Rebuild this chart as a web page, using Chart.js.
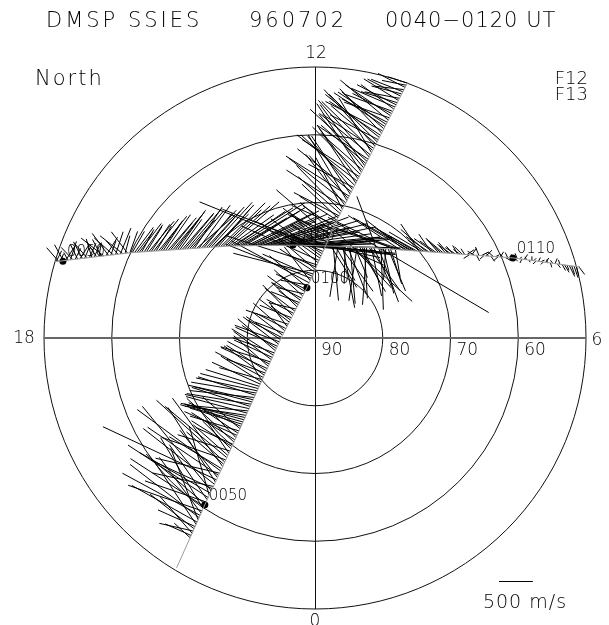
<!DOCTYPE html>
<html>
<head>
<meta charset="utf-8">
<title>DMSP SSIES 960702 0040-0120 UT</title>
<script src="https://cdn.jsdelivr.net/npm/chart.js@4.4.1/dist/chart.umd.min.js"></script>
<style>
  html, body { margin: 0; padding: 0; background: #fff; }
  canvas { display: block; }
</style>
</head>
<body>
<canvas id="dialChart" width="609" height="625"></canvas>
<script>
// latitude rings and MLT hour labels
const ringLats = [80, 70, 60, 50];
const ringLabels = ['90', '80', '70', '60'];
const hourLabels = ['12', '18', '6', '0'];

// F12 track vertices (magnetic latitude, MLT)
const f12Lat = [50.4, 60.5, 68.2, 85.0, 82.5, 72.0, 49.8];
const f12Mlt = [21.93, 21.77, 21.57, 18.00, 12.61, 11.28, 10.67];
// F13 track vertices
const f13Lat = [50.0, 59.95, 71.5, 75.9, 75.0, 69.9, 58.5, 49.5];
const f13Mlt = [16.91, 16.35, 14.85, 12.89, 10.25, 8.64, 7.47, 7.00];

// time marks on each pass
const f12MarkTime = ['0050', '0100'];
const f12MarkLat = [60.5, 82.5];
const f12MarkMlt = [21.77, 12.61];
const f13MarkTime = ['0050', '0100', '0110'];
const f13MarkLat = [51.1, 75.9, 58.5];
const f13MarkMlt = [16.87, 12.89, 7.47];

// ion drift along F12, m/s (cross: left of travel, along: forward)
const f12Cross = [
  0, 0, 0, 0, 0, 0, 0, 0, 0, 0, 0, 0, 0, 300, 420, 650, 500, 800, 600, 950,
  1100, 800, 1250, 1300, 900, 1150, 1000, 1280, 1100, 950, 850, 1400, 700, 1200, 1450, 1000, 900, 1300, 1100, 1850,
  800, 1250, 950, 1500, 900, 1100, 700, 1300, 1000, 1150, 650, 500, 800, 550, 700, 600, 900, 750, 500, 850,
  600, 750, 700, 850, 800, 950, 900, 950, 880, 920, 860, 950, 900, 930, 870, 960, 910, 880, 940, 900,
  870, 820, 780, 700, 650, 800, 720, 600, 690, 750, 650, 700, 760, 680, 620, 720, 650, 700, 600, 680,
  640, 700, 600, 560, 550, 450, 600, 500, 400, 650, 550, 350, 500, 600, 450, 550, 400, 500, 350, 450,
  600, 500, 550, 400, 450, 500, 700, 400, 1300, 550, 1350, 800, 1200, 600, 1000, 450, 1400, 700, 1250, 500,
  900, 600, 1100, 700, 600, 500, 800, -900, 650, 1000, 700, 600, -1500, 550, 700, -2600, 650, 700, 750, 800,
  900, 700, 1000, 850, 1050, 950, 800, 1100, 900, 1000, 950, 750, 1050, 900, 1100, 850, 1000, 950, 1050, 800,
  950, 1000, 850, 1100, 900, 1050, 950, 800, 1000, 900, 1050, 850, 950, 800, 1000, 900, 850, 950, 800, 900,
  850, 750, 900, 700, 800, 650, 750, 600, 700, 650, 550, 600, 500, 550, 450, 500, 400, 450, 350, 300
];
const f12Along = [
  0, 0, 0, 0, 0, 0, 0, 0, 0, 0, 0, 0, 0, 100, 0, 300, -100, 200, 0, 600,
  100, 800, 300, 100, 500, -100, 700, 200, 300, -100, 500, 200, 800, 100, 700, 0, -200, 300, 700, 0,
  400, 200, -200, 300, 100, 600, 200, 400, -100, 300, 200, 300, -100, 200, 100, 0, 300, 100, 200, 0,
  100, -100, 200, 0, -100, -150, -150, -200, -250, -150, -300, -200, -100, -250, -150, -200, -300, -100, -250, -200,
  -150, -100, 0, 100, -100, 50, 150, -50, 100, 0, 200, 50, -100, 150, 0, 100, -50, 200, 100, 0,
  150, -50, 100, 0, 100, -50, 150, 0, 200, -100, 100, 50, -50, 200, 0, 100, -100, 150, 50, -50,
  100, 0, 150, -100, 50, 0, 200, -100, 100, 300, -50, 0, -200, 100, 300, 0, -150, 200, 0, 100,
  200, 100, 0, 300, 100, -100, 200, 0, 100, 300, 0, 200, -500, 100, 0, -300, 100, 200, 0, 200,
  300, 500, 100, 400, 200, 600, 300, 100, 500, 200, 400, 0, 300, 500, 200, 400, 100, 300, 600, 200,
  400, 500, 200, 300, 100, 400, 200, 500, 300, 100, 400, 200, 300, 0, 200, 100, 300, 0, 200, 100,
  100, 0, 200, -100, 100, 0, -100, 100, -50, 0, -100, 50, -150, 0, -100, -50, -150, 0, -100, -50
];

// ion drift along F13, m/s
const f13Cross = [
  150, 220, 100, 250, 180, 120, 260, 200, 150, 230, 180, 260, 140, 220, 200, 280, 160, 240, 200, 260,
  300, 250, 350, 200, 280, 320, 220, 360, 300, 250, 340, 300, 300, 350, 280, 400, 320, 380, 350, 420,
  380, 450, 350, 480, 420, 400, 500, 450, 380, 520, 450, 550, 420, 500, 480, 560, 400, 520, 580, 450,
  600, 520, 480, 560, 500, 620, 450, 580, 520, 600, 500, 550, 600, 450, 550, 500, 620, 400, 500, 550,
  450, 350, 500, 400, 450, 350, 300, 420, 350, 280, 400, 300, 250, 350, 200, 300, 180, 250, 150, 100,
  -50, 150, 50, -100, 120, 600, 0, 100, -80, 500, 150, -100, 50, -150, 80, -600, -800, -500, -750, -650,
  -900, -550, -700, -840, -600, -450, -800, -650, -500, -750, -850, -600, -700, -550, 740, -770, -900, -650, -450, -600,
  -500, 400, -400, 300, 450, 250, 400, 350, 280, 420, 200, 300, 380, 250, 150, 300, 200, 250, 180, 150,
  200, 120, 180, 100, 150, 120, 100, 80, 120, 60, 100, 80, 80, -60, 100, 50, -80, 120, 60, -50,
  90, 40, -70, 60, 30, -60, 80, 50, -40, 70, 30, 50, -40, 70, 30, -60, 80, 40, -30, 60,
  40, -50, 60, 30, -40, 70, 50, -60, 40, 80, -50, 60, -80, -100, -70, -150, -120, -160, -130, -100
];
const f13Along = [
  100, -150, 50, -100, 150, -50, 120, -150, 100, -80, 150, -100, 80, -150, 120, -50, 100, -120, 60, -100,
  -300, 200, -200, 100, -250, 150, -150, 200, -300, 100, -200, 150, 200, 300, 250, 350, 200, 300, 250, 400,
  300, 400, 250, 450, 350, 300, 400, 450, 350, 500, 400, 450, 350, 500, 450, 550, 400, 500, 450, 600,
  500, 550, 450, 600, 500, 650, 550, 600, 500, 700, 600, 700, 800, 650, 900, 750, 1000, 700, 850, 900,
  950, 800, 1000, 900, 1050, 850, 950, 1100, 1000, 900, 1150, 1000, 1100, 1200, 1000, 1250, 1100, 1300, 1200, 1300,
  1200, 1400, 1100, 1300, 1250, -1600, 1350, 1000, 1200, -1400, 900, 1100, 700, 800, 600, 400, 100, 300, -100, 500,
  200, 0, 300, 100, 600, 200, -100, 400, 300, 100, 0, 500, 200, 300, -340, 350, 100, 200, 0, 300,
  200, -990, 100, -1200, -800, -1000, -600, -700, -500, -900, -400, -650, -300, -500, -250, -400, -350, -200, -300, -250,
  -200, -150, -250, -100, -150, -200, -100, -150, -80, -100, -120, -60, 100, -80, 60, -100, 50, -60, 100, -50,
  80, -40, 60, -80, 50, -60, 40, -50, 80, -40, 60, -20, 50, -40, 30, -20, 40, -30, 20, 0,
  30, -40, 20, 50, -30, 40, -20, 30, -40, 20, 50, -30, 60, 80, 40, 100, 60, 80, 50, 100
];

const SCALE_SPEED = 500;   // m/s shown by the key bar
const SPEED_PER_DEG = 100; // m/s drawn per degree of colatitude

// polar dial: 12 MLT at top, 6 right, colatitude as radius
function toXY(lat, mlt) {
  const colat = 90 - lat;
  const a = mlt * Math.PI / 12;
  return { x: colat * Math.sin(a), y: -colat * Math.cos(a) };
}

function trackPoints(lats, mlts) {
  return lats.map((lat, i) => toXY(lat, mlts[i]));
}

// vectors spaced evenly along the track, each starting on it
function driftVectors(track, cross, along) {
  const segLen = [];
  let total = 0;
  for (let i = 1; i < track.length; i++) {
    const d = Math.hypot(track[i].x - track[i - 1].x, track[i].y - track[i - 1].y);
    segLen.push(d);
    total += d;
  }
  const out = [];
  const n = cross.length;
  for (let k = 0; k < n; k++) {
    if (cross[k] === 0 && along[k] === 0) continue;
    let s = (k + 0.5) / n * total;
    let j = 0;
    while (j < segLen.length - 1 && s > segLen[j]) { s -= segLen[j]; j++; }
    const a = track[j], b = track[j + 1];
    const f = s / segLen[j];
    const base = { x: a.x + (b.x - a.x) * f, y: a.y + (b.y - a.y) * f };
    const tx = (b.x - a.x) / segLen[j], ty = (b.y - a.y) / segLen[j];
    const c = cross[k] / SPEED_PER_DEG, l = along[k] / SPEED_PER_DEG;
    out.push(base);
    out.push({ x: base.x - ty * c + tx * l, y: base.y + tx * c + ty * l });
    out.push({ x: NaN, y: NaN });
  }
  return out;
}

const f12Track = trackPoints(f12Lat, f12Mlt);
const f13Track = trackPoints(f13Lat, f13Mlt);
const f12Marks = trackPoints(f12MarkLat, f12MarkMlt);
const f13Marks = trackPoints(f13MarkLat, f13MarkMlt);

const FONT = '"DejaVu Sans", sans-serif';

const dialGrid = {
  id: 'dialGrid',
  beforeDatasetsDraw(chart) {
    const { ctx, chartArea: area, scales: { x, y } } = chart;
    const cx = x.getPixelForValue(0), cy = y.getPixelForValue(0);
    ctx.save();
    ctx.strokeStyle = '#111';
    ctx.lineWidth = 1;
    ringLats.forEach(lat => {
      const r = x.getPixelForValue(90 - lat) - cx;
      ctx.beginPath();
      ctx.arc(cx, cy, r, 0, 2 * Math.PI);
      ctx.stroke();
    });
    ctx.beginPath();
    ctx.moveTo(cx + 0.5, area.top);
    ctx.lineTo(cx + 0.5, area.bottom);
    ctx.stroke();
    ctx.strokeStyle = '#666';
    ctx.lineWidth = 2;
    ctx.beginPath();
    ctx.moveTo(area.left, cy);
    ctx.lineTo(area.right, cy);
    ctx.stroke();

    ctx.fillStyle = '#000';
    ctx.font = '200 17px ' + FONT;
    ctx.textBaseline = 'middle';
    ctx.textAlign = 'left';
    ringLabels.forEach((t, i) => {
      const px = i === 0 ? cx : x.getPixelForValue(90 - ringLats[i - 1]);
      ctx.fillText(t, px + 6, cy + 13);
    });
    ctx.textAlign = 'center';
    ctx.fillText(hourLabels[0], cx + 1, area.top - 13);
    ctx.fillText(hourLabels[1], area.left - 20, cy + 1);
    ctx.fillText(hourLabels[2], area.right + 11, cy + 3);
    ctx.fillText(hourLabels[3], cx, area.bottom + 13);

    // time marks beside the dots
    ctx.textAlign = 'left';
    ctx.font = '200 15px ' + FONT;
    const tag = (pts, times) => pts.forEach((p, i) => {
      ctx.fillText(times[i], x.getPixelForValue(p.x) + 4, y.getPixelForValue(p.y) - 9);
    });
    tag(f12Marks, f12MarkTime);
    tag(f13Marks, f13MarkTime);
    ctx.restore();
  },
  afterDraw(chart) {
    const { ctx, scales: { x } } = chart;
    ctx.save();
    ctx.fillStyle = '#000';
    ctx.textBaseline = 'middle';
    ctx.font = '200 21px ' + FONT;
    ctx.textAlign = 'left';
    ctx.letterSpacing = '3px';
    ctx.fillText('DMSP SSIES', 46, 22);
    ctx.fillText('960702', 249, 22);
    ctx.letterSpacing = '1px';
    ctx.fillText('0040\u22120120 UT', 385, 22);
    ctx.letterSpacing = '2px';
    ctx.fillText('North', 35, 80);
    ctx.textAlign = 'right';
    ctx.font = '200 18px ' + FONT;
    ctx.letterSpacing = '0px';
    ctx.fillText('F12', 588, 79);
    ctx.fillText('F13', 588, 95);

    // speed key
    const len = x.getPixelForValue(SCALE_SPEED / SPEED_PER_DEG) - x.getPixelForValue(0);
    ctx.strokeStyle = '#000';
    ctx.lineWidth = 1;
    ctx.beginPath();
    ctx.moveTo(499, 581.5);
    ctx.lineTo(499 + len, 581.5);
    ctx.stroke();
    ctx.textAlign = 'center';
    ctx.font = '200 19px ' + FONT;
    ctx.letterSpacing = '1px';
    ctx.fillText(SCALE_SPEED + ' m/s', 525, 603);
    ctx.restore();
  }
};

const lineSet = (data, color) => ({
  data,
  showLine: true,
  borderColor: color,
  borderWidth: 1,
  pointRadius: 0,
  pointHoverRadius: 0,
  clip: false
});

new Chart(document.getElementById('dialChart'), {
  type: 'scatter',
  data: {
    datasets: [
      lineSet(f12Track, '#9a9a9a'),
      lineSet(f13Track, '#9a9a9a'),
      lineSet(driftVectors(f12Track, f12Cross, f12Along), '#000'),
      lineSet(driftVectors(f13Track, f13Cross, f13Along), '#000'),
      {
        data: f12Marks.concat(f13Marks),
        pointRadius: 3.5,
        pointBackgroundColor: '#000',
        pointBorderWidth: 0,
        showLine: false,
        clip: false
      }
    ]
  },
  options: {
    responsive: false,
    animation: false,
    devicePixelRatio: 1,
    layout: { padding: { left: 44, right: 23, top: 67, bottom: 16 } },
    plugins: { legend: { display: false }, tooltip: { enabled: false } },
    scales: {
      x: { type: 'linear', min: -40, max: 40, display: false },
      y: { type: 'linear', min: -40, max: 40, display: false }
    }
  },
  plugins: [dialGrid]
});
</script>
</body>
</html>
